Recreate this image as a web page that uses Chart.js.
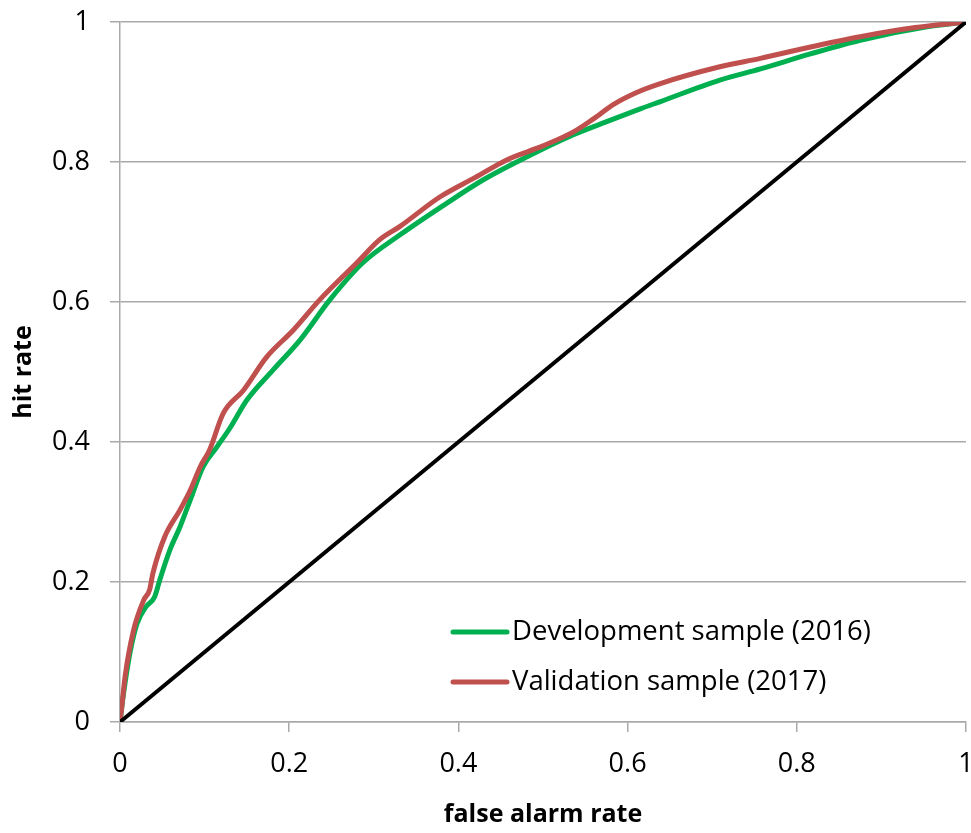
<!DOCTYPE html>
<html>
<head>
<meta charset="utf-8">
<script src="https://cdn.jsdelivr.net/npm/chart.js@4/dist/chart.umd.min.js"></script>
<style>
  html, body { margin: 0; padding: 0; background: #fff; }
  #wrap { width: 971px; height: 833px; }
</style>
</head>
<body>
<div id="wrap"><canvas id="rocChart" width="971" height="833"></canvas></div>
<script>
// ROC curves: false alarm rate (x) vs hit rate (y)
const devLabel = "Development sample (2016)";
const devFar = [0, 0.003, 0.006, 0.012, 0.02, 0.031, 0.041, 0.047, 0.059, 0.071, 0.083, 0.098, 0.114, 0.13, 0.15, 0.181, 0.213, 0.248, 0.287, 0.331, 0.386, 0.43, 0.477, 0.536, 0.576, 0.615, 0.638, 0.709, 0.757, 0.815, 0.875, 0.954, 1];
const devHit = [0, 0.03, 0.056, 0.1, 0.14, 0.165, 0.179, 0.203, 0.246, 0.279, 0.317, 0.364, 0.392, 0.42, 0.46, 0.503, 0.546, 0.603, 0.656, 0.696, 0.741, 0.775, 0.805, 0.839, 0.858, 0.876, 0.886, 0.917, 0.933, 0.954, 0.974, 0.993, 1];

const valLabel = "Validation sample (2017)";
const valFar = [0, 0.002, 0.006, 0.016, 0.028, 0.035, 0.039, 0.053, 0.071, 0.083, 0.095, 0.106, 0.122, 0.146, 0.173, 0.205, 0.236, 0.28, 0.307, 0.331, 0.378, 0.42, 0.457, 0.5, 0.536, 0.56, 0.583, 0.61, 0.636, 0.709, 0.757, 0.815, 0.875, 0.94, 1];
const valHit = [0, 0.02, 0.065, 0.131, 0.174, 0.189, 0.213, 0.265, 0.303, 0.331, 0.365, 0.389, 0.441, 0.474, 0.521, 0.56, 0.603, 0.656, 0.689, 0.708, 0.75, 0.778, 0.803, 0.823, 0.843, 0.862, 0.882, 0.899, 0.911, 0.936, 0.948, 0.964, 0.979, 0.992, 1];

// no-skill diagonal
const refFar = [0, 1];
const refHit = [0, 1];

const xTickLabels = ["0", "0.2", "0.4", "0.6", "0.8", "1"];
const yTickLabels = ["0", "0.2", "0.4", "0.6", "0.8", "1"];

const toPoints = (xs, ys) => xs.map((x, i) => ({ x: x, y: ys[i] }));

const FONT = "'Open Sans', 'DejaVu Sans', sans-serif";
const GRID = '#a9a9a9';

// legend drawn inside the plot area, bottom right
const innerLegend = {
  id: 'innerLegend',
  afterDraw(chart) {
    const ctx = chart.ctx;
    const items = chart.data.datasets.filter(d => d.label);
    const x0 = 453, x1 = 507, tx = 512;
    let y = 632;
    ctx.save();
    items.forEach(ds => {
      ctx.strokeStyle = ds.borderColor;
      ctx.lineWidth = 5;
      ctx.lineCap = 'round';
      ctx.beginPath();
      ctx.moveTo(x0, y);
      ctx.lineTo(x1, y);
      ctx.stroke();
      ctx.fillStyle = '#000';
      ctx.font = '27.5px ' + FONT;
      ctx.textAlign = 'left';
      ctx.textBaseline = 'middle';
      ctx.fillText(ds.label, tx, y);
      y += 50;
    });
    ctx.restore();
  }
};

const ctx = document.getElementById('rocChart').getContext('2d');
const rocChart = new Chart(ctx, {
  type: 'scatter',
  data: {
    datasets: [
      {
        label: devLabel,
        data: toPoints(devFar, devHit),
        showLine: true,
        borderColor: '#00b050',
        backgroundColor: '#00b050',
        borderWidth: 5,
        pointRadius: 0,
        cubicInterpolationMode: 'monotone',
        order: 2
      },
      {
        label: valLabel,
        data: toPoints(valFar, valHit),
        showLine: true,
        borderColor: '#c0504d',
        backgroundColor: '#c0504d',
        borderWidth: 5,
        pointRadius: 0,
        cubicInterpolationMode: 'monotone',
        order: 1
      },
      {
        label: '',
        data: toPoints(refFar, refHit),
        showLine: true,
        borderColor: '#000000',
        backgroundColor: '#000000',
        borderWidth: 4,
        pointRadius: 0,
        order: 0
      }
    ]
  },
  options: {
    responsive: false,
    animation: false,
    layout: { padding: { top: 22, right: 5, left: 0, bottom: 0 } },
    plugins: {
      legend: { display: false },
      tooltip: { enabled: false }
    },
    scales: {
      x: {
        type: 'linear',
        min: 0,
        max: 1,
        afterFit: (scale) => {
          scale.height = 111;
          scale.paddingLeft = 0;
          scale.paddingRight = 0;
        },
        ticks: {
          stepSize: 0.2,
          padding: 16,
          color: '#000',
          font: { family: FONT, size: 27 },
          maxRotation: 0,
          callback: (v, i) => xTickLabels[i]
        },
        grid: {
          drawOnChartArea: false,
          tickLength: 10,
          tickColor: GRID,
          lineWidth: 1.5
        },
        border: { display: true, color: GRID, width: 1.5 },
        title: {
          display: true,
          text: 'false alarm rate',
          color: '#000',
          font: { family: FONT, size: 25, weight: 'bold' },
          padding: { top: 0, bottom: 3 }
        }
      },
      y: {
        type: 'linear',
        min: 0,
        max: 1,
        afterFit: (scale) => {
          scale.width = 120;
          scale.paddingTop = 0;
          scale.paddingBottom = 0;
        },
        ticks: {
          stepSize: 0.2,
          padding: 20,
          color: '#000',
          font: { family: FONT, size: 27 },
          callback: (v, i) => yTickLabels[i]
        },
        grid: {
          color: GRID,
          tickColor: GRID,
          tickLength: 10,
          lineWidth: 1.5
        },
        border: { display: true, color: GRID, width: 1.5 },
        title: {
          display: true,
          text: 'hit rate',
          color: '#000',
          font: { family: FONT, size: 25, weight: 'bold' },
          padding: { top: 9, bottom: 0 }
        }
      }
    }
  },
  plugins: [innerLegend]
});
</script>
</body>
</html>
